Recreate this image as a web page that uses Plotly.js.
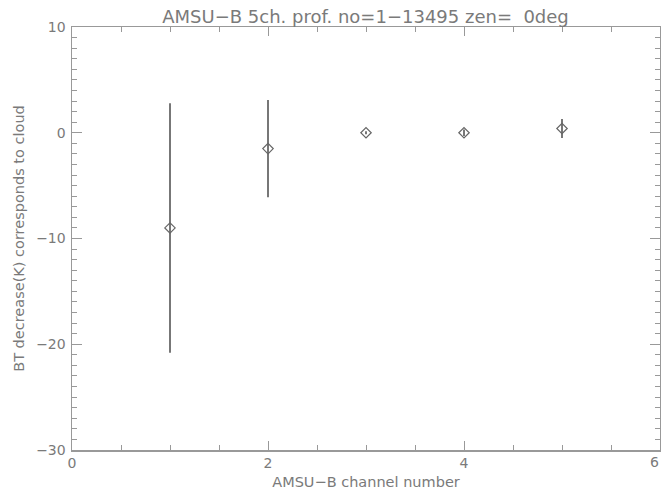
<!DOCTYPE html>
<html><head><meta charset="utf-8">
<script src="https://cdn.plot.ly/plotly-3.0.1.min.js"></script>
<style>html,body{margin:0;padding:0;background:#fff;}#chart{width:661px;height:493px;}</style>
</head><body><div id="chart"></div>
<script>
const channels = [1, 2, 3, 4, 5];
const btDecrease = [-9.0, -1.5, 0.0, 0.0, 0.4];
const btError = [11.8, 4.6, 0.15, 0.3, 0.9];
const titleText = 'AMSU\u2212B 5ch. prof. no=1\u221213495 zen=  0deg';
const xTitle = 'AMSU\u2212B channel number';
const yTitle = 'BT decrease(K) corresponds to cloud';
const xEdgeLabel = 6;

const grey = '#7a7a7a';
const font = {family: 'DejaVu Sans, sans-serif', size: 13, color: grey};

Plotly.newPlot('chart', [{
  x: channels, y: btDecrease, type: 'scatter', mode: 'markers',
  marker: {symbol: 'diamond-open', size: 8, color: '#666', line: {width: 1.2, color: '#666'}},
  error_y: {type: 'data', array: btError, visible: true, width: 0, thickness: 1.6, color: '#555'}
}], {
  width: 661, height: 493,
  margin: {l: 72, r: 1, t: 27, b: 43},
  paper_bgcolor: '#fff', plot_bgcolor: '#fff',
  showlegend: false,
  font: font,
  title: {text: titleText, x: 0.553, xanchor: 'center', yref: 'container', y: 0.966, yanchor: 'middle',
          font: {family: 'DejaVu Sans, sans-serif', size: 18, color: grey}},
  annotations: [{x: xEdgeLabel, xref: 'x', y: 0, yref: 'paper', yanchor: 'top', yshift: -2,
                 xanchor: 'right', xshift: 1,
                 text: String(xEdgeLabel), showarrow: false, font: {size: 14, color: grey}}],
  xaxis: {
    range: [0, 6], tick0: 0, dtick: 2, showgrid: false, zeroline: false,
    showline: true, linecolor: '#999', linewidth: 1.5, mirror: 'allticks',
    ticks: 'inside', ticklen: 9, tickcolor: '#999', tickwidth: 1,
    minor: {dtick: 0.5, ticks: 'inside', ticklen: 5, tickcolor: '#999', showgrid: false},
    tickfont: {size: 14, color: grey},
    title: {text: xTitle, standoff: 6, font: {size: 14.5, color: grey}}
  },
  yaxis: {
    range: [-30, 10], tick0: -30, dtick: 10, showgrid: false, zeroline: false,
    showline: true, linecolor: '#999', linewidth: 1.5, mirror: 'allticks',
    ticks: 'inside', ticklen: 10, tickcolor: '#999', tickwidth: 1,
    minor: {dtick: 1, ticks: 'inside', ticklen: 5, tickcolor: '#999', showgrid: false},
    tickfont: {size: 14, color: grey}, ticklabelstandoff: 2,
    title: {text: yTitle, standoff: 8, font: {size: 14.5, color: grey}}
  }
}, {displayModeBar: false, staticPlot: true});
</script></body></html>
